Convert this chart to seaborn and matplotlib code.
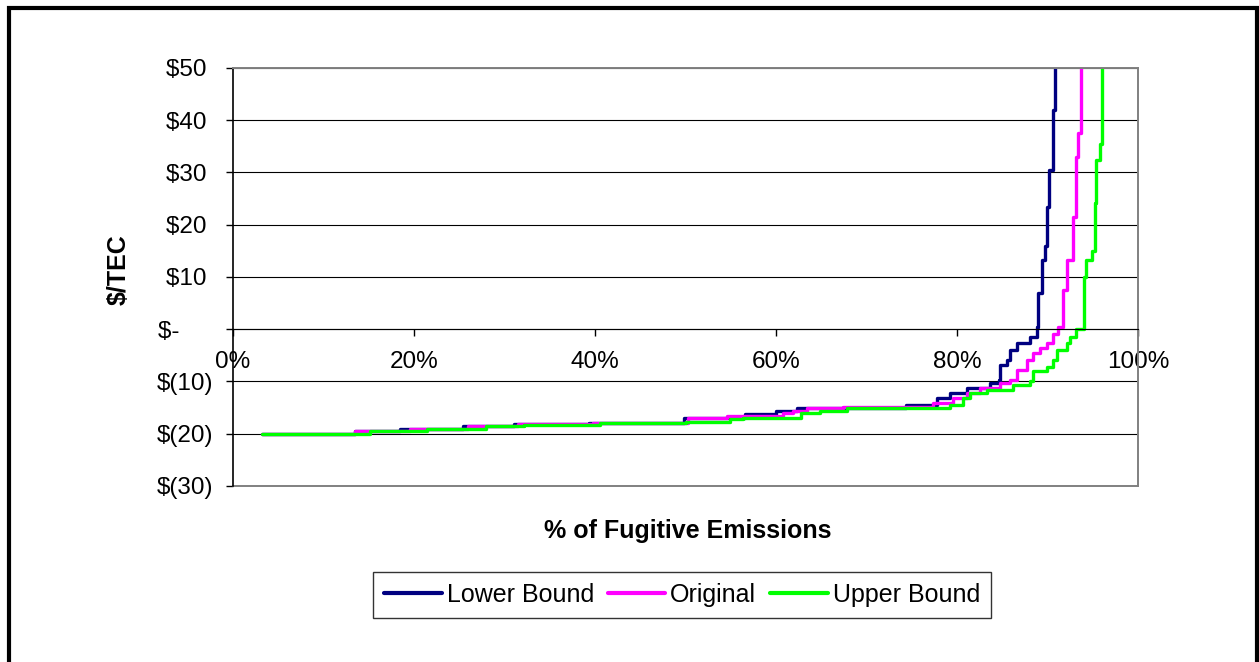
import pandas as pd
import matplotlib
matplotlib.use("Agg")
import matplotlib.pyplot as plt
from matplotlib.patches import Rectangle
from matplotlib.ticker import FuncFormatter
import seaborn as sns

# Cost curves: % of fugitive emissions vs $/TEC (step points)
lower_x = [3.2, 13.5, 18.5, 25.4, 31.0, 39.3, 49.8, 56.6, 60.0, 62.3, 74.4, 77.8,
           79.2, 81.1, 83.6, 84.6, 84.8, 85.5, 85.9, 86.6, 88.1, 88.8, 89.0, 89.4,
           89.7, 89.9, 90.2, 90.6, 90.8]
lower_y = [-20.0, -19.5, -19.1, -18.6, -18.2, -17.9, -16.9, -16.2, -15.6, -15.1, -14.5, -13.2,
           -12.2, -11.3, -10.3, -9.7, -6.8, -5.9, -4.0, -2.6, -1.5, 0.4, 6.9, 13.3,
           16.0, 23.4, 30.5, 42.0, 50.0]

orig_x = [3.2, 13.5, 19.5, 26.0, 31.5, 39.8, 50.3, 54.6, 60.8, 61.9, 63.4, 67.4,
          77.4, 79.6, 81.1, 82.5, 84.8, 85.9, 86.6, 87.7, 88.4, 89.2, 89.9, 90.6,
          91.2, 91.7, 92.1, 92.8, 93.1, 93.4, 93.7]
orig_y = [-20.0, -19.5, -19.1, -18.6, -18.2, -17.9, -16.9, -16.6, -16.1, -15.6, -15.1, -14.8,
          -14.1, -13.2, -12.2, -11.3, -10.3, -9.7, -7.8, -5.9, -4.5, -3.5, -2.6, -1.0,
          0.4, 7.5, 13.3, 21.5, 33.0, 37.6, 50.0]

upper_x = [3.2, 15.1, 21.4, 28.0, 32.1, 40.6, 50.0, 54.9, 56.4, 62.8, 64.9, 67.8,
           79.2, 80.7, 81.4, 83.3, 86.2, 88.1, 88.4, 89.9, 90.6, 91.0, 92.1, 92.5,
           93.2, 94.0, 94.3, 94.9, 95.2, 95.4, 95.8, 96.0]
upper_y = [-20.0, -19.5, -19.1, -18.6, -18.4, -18.0, -17.7, -17.2, -16.9, -16.1, -15.6, -15.1,
           -14.5, -13.2, -12.2, -11.6, -10.6, -9.9, -7.9, -7.3, -5.9, -4.0, -2.6, -1.5,
           0.0, 10.0, 13.3, 15.0, 24.1, 32.4, 35.5, 50.0]

series_names = ["Lower Bound", "Original", "Upper Bound"]
series_colors = ["#000080", "#FF00FF", "#00FF00"]

y_ticks = [50, 40, 30, 20, 10, 0, -10, -20, -30]
y_tick_labels = ["$50 ", "$40 ", "$30 ", "$20 ", "$10 ", "$-     ", "$(10)", "$(20)", "$(30)"]
x_ticks = [0, 20, 40, 60, 80, 100]

# long table for seaborn
frames = []
for name, xs, ys in zip(series_names, [lower_x, orig_x, upper_x], [lower_y, orig_y, upper_y]):
    frames.append(pd.DataFrame({"pct": xs, "cost": ys, "series": name}))
df = pd.concat(frames, ignore_index=True)

sns.set_style("white")
plt.rcParams["font.family"] = ["Liberation Sans", "DejaVu Sans"]
plt.rcParams["text.color"] = "black"
plt.rcParams["axes.labelcolor"] = "black"
plt.rcParams["xtick.color"] = "black"
plt.rcParams["ytick.color"] = "black"

fig = plt.figure(figsize=(12.59, 6.62), dpi=100)
ax = fig.add_axes([0.1851, 0.2659, 0.7188, 0.6314])

sns.lineplot(data=df, x="pct", y="cost", hue="series", hue_order=series_names,
             palette=series_colors, estimator=None, sort=False,
             drawstyle="steps-post", linewidth=2.4, ax=ax)

ax.set_xlim(0, 100)
ax.set_ylim(-30, 50)
ax.set_yticks(y_ticks)
ax.set_yticklabels(y_tick_labels)
ax.set_xticks(x_ticks)
ax.xaxis.set_major_formatter(FuncFormatter(lambda v, p: f"{v:.0f}%"))

ax.yaxis.grid(True, color="black", linewidth=0.8)
ax.xaxis.grid(False)
ax.set_axisbelow(True)

# frame: grey border, black value axis, category axis crossing at 0
for s in ["top", "right"]:
    ax.spines[s].set_color("#808080")
    ax.spines[s].set_linewidth(1.4)
ax.spines["left"].set_color("black")
ax.spines["left"].set_linewidth(1.2)
ax.spines["bottom"].set_position(("data", 0))
ax.spines["bottom"].set_color("black")
ax.spines["bottom"].set_linewidth(0.8)
ax.axhline(-30, color="#808080", linewidth=1.4, clip_on=False)

ax.tick_params(axis="y", direction="out", length=5, width=1, color="black",
               pad=9, labelsize=17.5, left=True)
ax.tick_params(axis="x", direction="out", length=5, width=1, color="black",
               pad=11, labelsize=17.5, bottom=True)

ax.set_xlabel("% of Fugitive Emissions", fontsize=18, fontweight="bold")
ax.xaxis.set_label_coords(0.503, -0.08)
ax.set_ylabel("$/TEC", fontsize=18, fontweight="bold")
ax.yaxis.set_label_coords(-0.113, 0.517)

leg = ax.get_legend()
handles = leg.legend_handles
labels = [t.get_text() for t in leg.get_texts()]
leg.remove()
for h in handles:
    h.set_linewidth(3)
fig.legend(handles, labels, loc="center", bbox_to_anchor=(0.5417, 0.101), ncol=3,
           fontsize=18, frameon=True, fancybox=False, edgecolor="black",
           handlelength=2.3, handletextpad=0.2, columnspacing=0.55,
           borderpad=0.45, borderaxespad=0)
fig.legends[0].get_frame().set_linewidth(1)

# outer chart border
fig.patches.append(Rectangle((0.007, -0.1), 0.9914, 1.088, transform=fig.transFigure,
                             fill=False, linewidth=3, edgecolor="black"))

fig.savefig("out.png", dpi=100, facecolor="white")
